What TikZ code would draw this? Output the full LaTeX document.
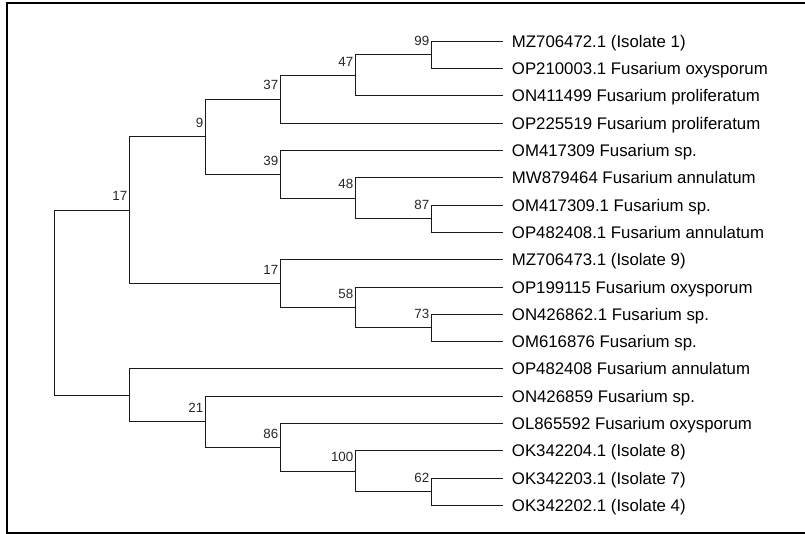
\documentclass[tikz,border=0pt]{standalone}
\usepackage{fontspec}
\setmainfont{Liberation Sans}
\usetikzlibrary{positioning}

\begin{document}
\begin{tikzpicture}[x=0.75pt,y=-0.75pt,
  leaf/.style={anchor=west,inner xsep=6.5pt,inner ysep=0pt,text height=9pt,text depth=0pt,font=\fontsize{12.6}{14}\selectfont},
  bs/.style={inner sep=0pt,text=black!85,font=\fontsize{10}{11}\selectfont},
  branch/.style={draw=black!90,line width=0.75pt}]
\useasboundingbox (0,0) rectangle (805,534);
\draw[line width=1.5pt] (805,3) -- (7,3) -- (7,533) -- (805,533);

% taxa
\node[leaf] (mz472) at (503,41.3) {MZ706472.1 (Isolate 1)};
\node[leaf] (op003) at (503,68.6) {OP210003.1 Fusarium oxysporum};
\node[leaf] (on499) at (503,95.9) {ON411499 Fusarium proliferatum};
\node[leaf] (op519) at (503,123.2) {OP225519 Fusarium proliferatum};
\node[leaf] (om309) at (503,150.5) {OM417309 Fusarium sp.};
\node[leaf] (mw464) at (503,177.8) {MW879464 Fusarium annulatum};
\node[leaf] (om309b) at (503,205.1) {OM417309.1 Fusarium sp.};
\node[leaf] (op408b) at (503,232.4) {OP482408.1 Fusarium annulatum};
\node[leaf] (mz473) at (503,259.7) {MZ706473.1 (Isolate 9)};
\node[leaf] (op115) at (503,287.0) {OP199115 Fusarium oxysporum};
\node[leaf] (on862) at (503,314.3) {ON426862.1 Fusarium sp.};
\node[leaf] (om876) at (503,341.6) {OM616876 Fusarium sp.};
\node[leaf] (op408) at (503,368.9) {OP482408 Fusarium annulatum};
\node[leaf] (on859) at (503,396.2) {ON426859 Fusarium sp.};
\node[leaf] (ol592) at (503,423.5) {OL865592 Fusarium oxysporum};
\node[leaf] (ok204) at (503,450.8) {OK342204.1 (Isolate 8)};
\node[leaf] (ok203) at (503,478.1) {OK342203.1 (Isolate 7)};
\node[leaf] (ok202) at (503,505.4) {OK342202.1 (Isolate 4)};

% internal nodes
\coordinate (n99) at (431,54.95);
\coordinate (n47) at (355,75.4);
\coordinate (n37) at (280,99.3);
\coordinate (n87) at (431,218.75);
\coordinate (n48) at (355,198.3);
\coordinate (n39) at (280,174.4);
\coordinate (n9) at (205,136.85);
\coordinate (n73) at (431,327.95);
\coordinate (n58) at (355,307.5);
\coordinate (n17b) at (280,283.6);
\coordinate (n17a) at (129,210.2);
\coordinate (n62) at (431,491.75);
\coordinate (n100) at (355,471.3);
\coordinate (n86) at (280,447.4);
\coordinate (n21) at (205,421.8);
\coordinate (nlow) at (129,395.35);
\coordinate (root) at (54,302.8);

% branches
\draw[branch] (n99) |- (mz472.west);
\draw[branch] (n99) |- (op003.west);
\draw[branch] (n47) |- (n99);
\draw[branch] (n47) |- (on499.west);
\draw[branch] (n37) |- (n47);
\draw[branch] (n37) |- (op519.west);
\draw[branch] (n87) |- (om309b.west);
\draw[branch] (n87) |- (op408b.west);
\draw[branch] (n48) |- (mw464.west);
\draw[branch] (n48) |- (n87);
\draw[branch] (n39) |- (om309.west);
\draw[branch] (n39) |- (n48);
\draw[branch] (n9) |- (n37);
\draw[branch] (n9) |- (n39);
\draw[branch] (n73) |- (on862.west);
\draw[branch] (n73) |- (om876.west);
\draw[branch] (n58) |- (op115.west);
\draw[branch] (n58) |- (n73);
\draw[branch] (n17b) |- (mz473.west);
\draw[branch] (n17b) |- (n58);
\draw[branch] (n17a) |- (n9);
\draw[branch] (n17a) |- (n17b);
\draw[branch] (n62) |- (ok203.west);
\draw[branch] (n62) |- (ok202.west);
\draw[branch] (n100) |- (ok204.west);
\draw[branch] (n100) |- (n62);
\draw[branch] (n86) |- (ol592.west);
\draw[branch] (n86) |- (n100);
\draw[branch] (n21) |- (on859.west);
\draw[branch] (n21) |- (n86);
\draw[branch] (nlow) |- (op408.west);
\draw[branch] (nlow) |- (n21);
\draw[branch] (root) |- (n17a);
\draw[branch] (root) |- (nlow);

% bootstrap values
\node[bs,above left=6.75pt and 1.1pt of n99] (s99) {99};
\node[bs,above left=6.75pt and 1.1pt of n47] (s47) {47};
\node[bs,above left=6.75pt and 1.1pt of n37] (s37) {37};
\node[bs,above left=6.75pt and 1.1pt of n9] (s9) {9};
\node[bs,above left=6.75pt and 1.1pt of n17a] (s17a) {17};
\node[bs,above left=6.75pt and 1.1pt of n39] (s39) {39};
\node[bs,above left=6.75pt and 1.1pt of n48] (s48) {48};
\node[bs,above left=6.75pt and 1.1pt of n87] (s87) {87};
\node[bs,above left=6.75pt and 1.1pt of n17b] (s17b) {17};
\node[bs,above left=6.75pt and 1.1pt of n58] (s58) {58};
\node[bs,above left=6.75pt and 1.1pt of n73] (s73) {73};
\node[bs,above left=6.75pt and 1.1pt of n21] (s21) {21};
\node[bs,above left=6.75pt and 1.1pt of n86] (s86) {86};
\node[bs,above left=6.75pt and 1.1pt of n100] (s100) {100};
\node[bs,above left=6.75pt and 1.1pt of n62] (s62) {62};
\end{tikzpicture}
\end{document}
